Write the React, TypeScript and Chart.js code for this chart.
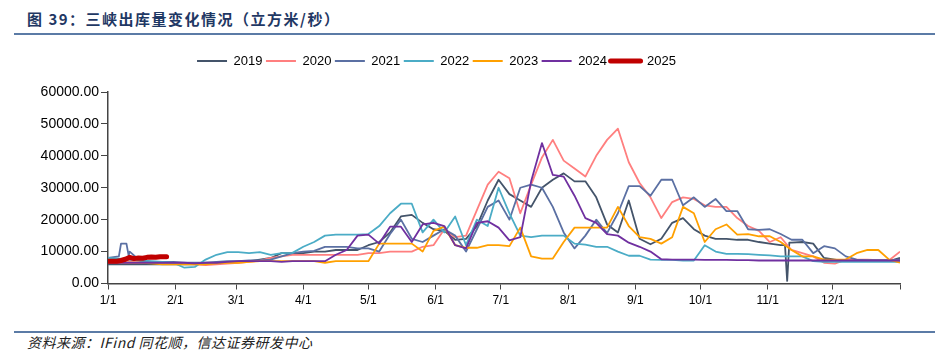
import React, { useEffect, useRef } from 'react';
import { Chart, registerables } from 'chart.js';

Chart.register(...registerables);

// Day of year (0 = 1/1) sampled every 5 days
const DAYS = [0, 5, 10, 15, 20, 25, 30, 35, 40, 45, 50, 55, 60, 65, 70, 75, 80, 85, 90, 95, 100, 105, 110, 115, 120, 125, 130, 135, 140, 145, 150, 155, 160, 165, 170, 175, 180, 185, 190, 195, 200, 205, 210, 215, 220, 225, 230, 235, 240, 245, 250, 255, 260, 265, 270, 275, 280, 285, 290, 295, 300, 305, 310, 315, 320, 325, 330, 335, 340, 345, 350, 355, 360, 365];

const S2019 = [6000, 6000, 6000, 6000, 6000, 6000, 6000, 6000, 6000, 6200, 6500, 6500, 6800, 7000, 7500, 8000, 9500, 9500, 9500, 10000, 10000, 10500, 10500, 10500, 12000, 13000, 16000, 21000, 21500, 19000, 17000, 16500, 13700, 14000, 18000, 26000, 32500, 28000, 26000, 24000, 30000, 32500, 34500, 32000, 32000, 27000, 18500, 16000, 26000, 14000, 12300, 14000, 19000, 20500, 17000, 15000, 14000, 14000, 13700, 13700, 13000, 12500, 12000, 12800, 13000, 12500, 8000, 7500, 7000, 7000, 7000, 7000, 7000, 8000];
const EXTRA_DAYS_2019 = [312, 313, 314];
const EXTRA_2019 = [12000, 800, 12800];

const S2020 = [7000, 7000, 7200, 7000, 6800, 6800, 6500, 6200, 6000, 5800, 6000, 6200, 6500, 6800, 7200, 8000, 8500, 9000, 9000, 9000, 9000, 9000, 9000, 9000, 9500, 9500, 10000, 10000, 10000, 11500, 12000, 17000, 14500, 15000, 23000, 31000, 35000, 33000, 22000, 31000, 39500, 45000, 38500, 36000, 33500, 40000, 45000, 48500, 38000, 31500, 27000, 20500, 25500, 27000, 26500, 24500, 24000, 24000, 20500, 18000, 16500, 13000, 14500, 10500, 9500, 8500, 6500, 6200, 7500, 7500, 7500, 7300, 7300, 10000];

const S2021 = [8000, 8500, 10000, 7000, 6800, 6800, 6800, 6500, 6500, 6500, 6800, 7000, 7000, 7200, 7200, 7500, 8500, 9500, 10000, 10200, 11500, 11500, 11500, 11000, 11000, 10000, 15500, 20000, 14000, 13000, 15000, 17000, 15000, 10000, 17000, 24000, 26000, 20000, 30000, 31000, 30000, 24000, 16000, 11000, 15000, 20000, 15800, 22000, 30500, 30500, 27500, 32500, 32500, 24500, 27000, 24000, 26500, 22700, 22700, 17000, 16800, 17000, 15500, 13700, 13700, 9500, 11700, 11000, 8500, 7500, 7300, 7300, 7300, 7500];
const EXTRA_DAYS_2021 = [6, 8.5, 9.5];
const EXTRA_2021 = [12500, 12500, 8800];

const S2022 = [8000, 7800, 7500, 7200, 7000, 6800, 6500, 5000, 5200, 7500, 9000, 9800, 9800, 9500, 9800, 9000, 9500, 9600, 11500, 13000, 15000, 15300, 15300, 15300, 15500, 18000, 22000, 25000, 25000, 16000, 20000, 16000, 21000, 12000, 20000, 18000, 30000, 22000, 15000, 14500, 15000, 15000, 15000, 12500, 12200, 11500, 11500, 10000, 8700, 8700, 7500, 7400, 7400, 7200, 7200, 12000, 10000, 9300, 9300, 9200, 9000, 8800, 8500, 8500, 8500, 7000, 6800, 6800, 6800, 6800, 6800, 6800, 6800, 6800];

const S2023 = [6500, 6500, 6500, 6500, 6300, 6000, 6000, 6000, 6000, 6000, 6300, 6500, 6500, 6800, 7000, 7000, 7000, 7000, 7000, 7000, 6500, 7000, 7000, 7000, 7000, 12500, 12500, 12500, 12500, 10000, 16500, 17800, 12000, 11200, 11200, 12000, 12000, 11700, 17500, 8500, 7800, 7800, 13000, 17500, 17500, 17500, 17500, 24000, 18000, 14500, 14000, 12500, 14500, 24000, 22000, 13000, 17000, 18500, 15300, 15500, 14800, 14800, 13000, 10500, 8500, 8500, 7500, 7500, 7500, 9500, 10500, 10500, 7500, 6500];

const S2024 = [6500, 6500, 6500, 6500, 6500, 6500, 6500, 6500, 6300, 6500, 6500, 6800, 7000, 7000, 7000, 7000, 6800, 7000, 7000, 7000, 7000, 9000, 10500, 15000, 15300, 12500, 17800, 17800, 13000, 18500, 19000, 18000, 12000, 11000, 19000, 19500, 17500, 13500, 14500, 32000, 44000, 34000, 33500, 27500, 20500, 19000, 15500, 15000, 12800, 11500, 10000, 7600, 7500, 7500, 7500, 7400, 7400, 7400, 7300, 7300, 7200, 7200, 7200, 7200, 7200, 7200, 7200, 7200, 7200, 7200, 7200, 7200, 7200, 7200];

const DAYS_2025 = [0, 2, 4, 6, 8, 10, 12, 14, 16, 18, 20, 22, 24, 26, 27];
const S2025 = [7000, 7000, 7000, 7200, 7600, 8200, 7800, 8000, 7900, 8200, 8300, 8200, 8400, 8400, 8400];

const SERIES_NAMES = ['2019', '2020', '2021', '2022', '2023', '2024', '2025'];
const COLORS = ['#44546A', '#FF7F7F', '#5B70A3', '#4BACC6', '#FFA000', '#7030A0', '#C00000'];

const MONTH_TICKS = [0, 31, 59, 90, 120, 151, 181, 212, 243, 273, 304, 334, 365];
const MONTH_LABELS = ['1/1', '2/1', '3/1', '4/1', '5/1', '6/1', '7/1', '8/1', '9/1', '10/1', '11/1', '12/1', ''];

const Y_TICK_STEP = 10000;
const LEGEND_SHIFT_X = 13.5;
const LEGEND_SHIFT_Y = 14.5;

function toPoints(days: number[], vals: number[]) {
  return days.map((d, i) => ({ x: d, y: vals[i] }));
}

function merged(days: number[], vals: number[], exDays: number[], exVals: number[]) {
  return [...toPoints(days, vals), ...toPoints(exDays, exVals)].sort((a, b) => a.x - b.x);
}

const legendShift = {
  id: 'legendShift',
  afterLayout(chart: any) {
    const lg = chart.legend;
    if (lg) {
      lg.left -= LEGEND_SHIFT_X;
      lg.right -= LEGEND_SHIFT_X;
      lg.top -= LEGEND_SHIFT_Y;
      lg.bottom -= LEGEND_SHIFT_Y;
    }
  },
};

export default function App() {
  const ref = useRef<HTMLCanvasElement | null>(null);

  useEffect(() => {
    if (!ref.current) return;
    Chart.defaults.font.family = '"Liberation Sans", Arial, sans-serif';
    const seriesData = [
      merged(DAYS, S2019, EXTRA_DAYS_2019, EXTRA_2019),
      toPoints(DAYS, S2020),
      merged(DAYS, S2021, EXTRA_DAYS_2021, EXTRA_2021),
      toPoints(DAYS, S2022),
      toPoints(DAYS, S2023),
      toPoints(DAYS, S2024),
      toPoints(DAYS_2025, S2025),
    ];
    const datasets = seriesData.map((data, i) => {
      const last = i === SERIES_NAMES.length - 1;
      return {
        label: SERIES_NAMES[i],
        data,
        borderColor: COLORS[i],
        backgroundColor: COLORS[i],
        borderWidth: last ? 5 : 1.8,
        borderCapStyle: last ? 'round' : 'butt',
        borderJoinStyle: 'round',
        pointRadius: 0,
        pointHoverRadius: 0,
        tension: 0,
        fill: false,
        order: SERIES_NAMES.length - 1 - i,
      };
    });

    const chart = new Chart(ref.current, {
      type: 'line',
      data: { datasets } as any,
      options: {
        responsive: false,
        animation: false,
        events: [],
        layout: { padding: { top: 11, right: 51, bottom: 6.5, left: 0 } },
        plugins: {
          legend: {
            position: 'top',
            labels: {
              usePointStyle: true,
              pointStyle: 'line',
              pointStyleWidth: 30,
              padding: 3.5,
              color: '#000',
              font: { size: 13 },
              sort: (a: any, b: any) => a.datasetIndex - b.datasetIndex,
              generateLabels: (c: any) => {
                const items = (Chart.defaults.plugins.legend.labels as any).generateLabels(c);
                items.forEach((it: any) => {
                  const ds = c.data.datasets[it.datasetIndex];
                  it.lineWidth = ds.borderWidth;
                  it.lineCap = ds.borderCapStyle;
                  it.strokeStyle = ds.borderColor;
                });
                return items;
              },
            },
          },
          tooltip: { enabled: false },
        },
        scales: {
          x: {
            type: 'linear',
            min: 0,
            max: 365,
            afterBuildTicks: (ax: any) => {
              ax.ticks = MONTH_TICKS.map((v) => ({ value: v }));
            },
            afterFit: (ax: any) => {
              ax.height = 30;
            },
            grid: { drawOnChartArea: false, drawTicks: true, tickLength: 6, color: '#444', lineWidth: 1 },
            border: { display: true, color: '#444', width: 1.5 },
            ticks: {
              autoSkip: false,
              maxRotation: 0,
              padding: 4,
              color: '#000',
              font: { size: 12 },
              callback: (v: any) => {
                const k = MONTH_TICKS.indexOf(Number(v));
                return k >= 0 ? MONTH_LABELS[k] : '';
              },
            },
          },
          y: {
            min: 0,
            max: 60000,
            afterFit: (ax: any) => {
              ax.width = 108;
              ax.paddingTop = 52;
            },
            grid: { drawOnChartArea: false, drawTicks: true, tickLength: 7, color: '#444', lineWidth: 1 },
            border: { display: true, color: '#444', width: 1.5 },
            ticks: {
              stepSize: Y_TICK_STEP,
              padding: 2,
              color: '#000',
              font: { size: 14 },
              callback: (v: any) => Number(v).toFixed(2),
            },
          },
        },
      } as any,
      plugins: [legendShift],
    });
    return () => chart.destroy();
  }, []);

  return (
    <div style={{ position: 'absolute', left: 0, top: 0, width: 951, height: 355, background: '#fff', overflow: 'hidden' }}>
      <div
        style={{
          position: 'absolute',
          left: 27,
          top: 11,
          fontFamily: '"Noto Sans CJK SC", sans-serif',
          fontWeight: 'bold',
          fontSize: 15,
          lineHeight: '15px',
          letterSpacing: '1.5px',
          color: '#1F3864',
          whiteSpace: 'nowrap',
        }}
      >
        图 39：三峡出库量变化情况（立方米/秒）
      </div>
      <div style={{ position: 'absolute', left: 14, top: 33, width: 921, height: 2, background: '#5B7BA6' }} />
      <canvas ref={ref} width={951} height={280} style={{ position: 'absolute', left: 0, top: 40, width: 951, height: 280 }} />
      <div style={{ position: 'absolute', left: 14, top: 331, width: 921, height: 2, background: '#5B7BA6' }} />
      <div
        style={{
          position: 'absolute',
          left: 27,
          top: 335,
          fontFamily: '"Noto Sans CJK SC", sans-serif',
          fontStyle: 'italic',
          fontSize: 14,
          lineHeight: '14px',
          letterSpacing: '0.5px',
          color: '#222',
          whiteSpace: 'nowrap',
        }}
      >
        资料来源：IFind 同花顺，信达证券研发中心
      </div>
    </div>
  );
}
